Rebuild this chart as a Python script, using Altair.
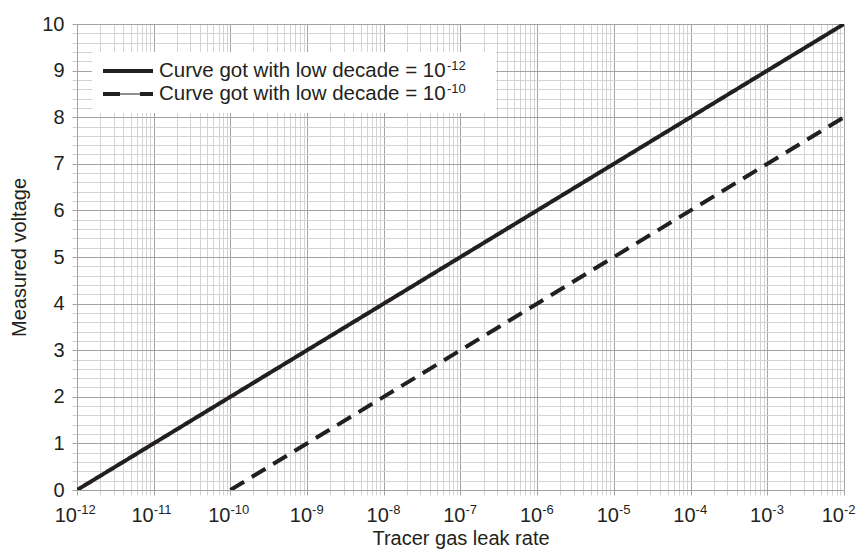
import altair as alt
import pandas as pd

FONT = "Liberation Sans"
TEXT = "#231f20"
MAJ = "#a3a3a3"
MIN = "#d3d3d3"

# ---- data ----
decade_exponents = [-12, -11, -10, -9, -8, -7, -6, -5, -4, -3, -2]
minor_multipliers = [1, 2, 3, 4, 5, 6, 7, 8, 9]

curve_keys = ["low12", "low10"]
curve_labels = ["Curve got with low decade = 10", "Curve got with low decade = 10"]
curve_label_exp = ["-12", "-10"]
curve_rate_start = [1e-12, 1e-10]
curve_rate_end = [1e-2, 1e-2]
curve_volt_start = [0, 0]
curve_volt_end = [10, 8]

x_grid = [m * 10.0 ** e for e in decade_exponents[:-1] for m in minor_multipliers] + [1e-2]
y_grid = [round(i * 0.2, 1) for i in range(51)]

rows = []
for k, rs, re_, vs, ve in zip(curve_keys, curve_rate_start, curve_rate_end, curve_volt_start, curve_volt_end):
    rows.append({"curve": k, "rate": rs, "voltage": vs})
    rows.append({"curve": k, "rate": re_, "voltage": ve})
curve_df = pd.DataFrame(rows)

W, H = 767, 466

x_scale = alt.Scale(type="log", domain=[1e-12, 1e-2], nice=False)
y_scale = alt.Scale(domain=[0, 10], nice=False, zero=False)

major_x_test = "abs(log(datum.value)/LN10 - round(log(datum.value)/LN10)) < 0.001"
major_y_test = "abs(datum.value - round(datum.value)) < 0.001"

x_axis = alt.Axis(
    values=x_grid, grid=True,
    gridColor={"condition": {"test": major_x_test, "value": MAJ}, "value": MIN},
    gridWidth=1, labels=False, ticks=True, tickSize=5,
    tickColor={"condition": {"test": major_x_test, "value": MAJ}, "value": MIN},
    domain=True, domainColor=MAJ,
    title="Tracer gas leak rate", titlePadding=33, titleFontSize=20,
    titleFont=FONT, titleFontWeight="normal", titleColor=TEXT,
)
y_axis = alt.Axis(
    values=y_grid, grid=True,
    gridColor={"condition": {"test": major_y_test, "value": MAJ}, "value": MIN},
    gridWidth=1, ticks=True, tickSize=5,
    tickColor={"condition": {"test": major_y_test, "value": MAJ}, "value": MIN},
    domain=True, domainColor=MAJ,
    labelExpr="abs(datum.value - round(datum.value)) < 0.001 ? '' + round(datum.value) : ''",
    labelOverlap=False, labelFlush=False, labelPadding=8,
    labelFontSize=20, labelFont=FONT, labelColor=TEXT,
    title="Measured voltage", titlePadding=12, titleFontSize=20,
    titleFont=FONT, titleFontWeight="normal", titleColor=TEXT,
)

lines = alt.Chart(curve_df).mark_line(strokeWidth=4, color=TEXT, clip=True).encode(
    x=alt.X("rate:Q", scale=x_scale, axis=x_axis),
    y=alt.Y("voltage:Q", scale=y_scale, axis=y_axis),
    strokeDash=alt.StrokeDash("curve:N", scale=alt.Scale(domain=curve_keys, range=[[1, 0], [16, 9]]), legend=None),
)

# ---- x tick labels with superscript exponents ----
tick_df = pd.DataFrame({"e": decade_exponents})
tick_base = alt.Chart(tick_df).transform_calculate(rate="pow(10, datum.e)", sup="'' + datum.e")

def tick_layers(filter_expr, dx):
    b = tick_base.transform_filter(filter_expr)
    ten = b.mark_text(align="right", baseline="alphabetic", fontSize=20, font=FONT, color=TEXT, dx=dx).encode(
        x=alt.X("rate:Q", scale=x_scale), y=alt.value(H + 32), text=alt.value("10"))
    sup = b.mark_text(align="left", baseline="alphabetic", fontSize=13, font=FONT, color=TEXT, dx=dx).encode(
        x=alt.X("rate:Q", scale=x_scale), y=alt.value(H + 24), text="sup:N")
    return [ten, sup]

tick_text = (tick_layers("datum.e <= -10", 0)
             + tick_layers("datum.e > -10 && datum.e < -2", 5)
             + tick_layers("datum.e == -2", 0))

# ---- legend ----
one = pd.DataFrame({"k": [0]})
leg_bg = alt.Chart(one).mark_rect(fill="white", strokeWidth=0).encode(
    x=alt.value(15), x2=alt.value(419), y=alt.value(28), y2=alt.value(89))

leg_df = pd.DataFrame({"curve": curve_keys, "label": curve_labels, "exp": curve_label_exp})
row_y = [47, 70]
leg_layers = []
for i, k in enumerate(curve_keys):
    b = alt.Chart(leg_df).transform_filter(f"datum.curve == '{k}'")
    if i == 0:
        leg_layers.append(b.mark_rule(strokeWidth=4, color=TEXT).encode(
            x=alt.value(26), x2=alt.value(76), y=alt.value(row_y[i])))
    else:
        leg_layers.append(b.mark_rule(strokeWidth=1, color=TEXT).encode(
            x=alt.value(26), x2=alt.value(76), y=alt.value(row_y[i])))
        leg_layers.append(b.mark_rule(strokeWidth=4, color=TEXT, strokeDash=[17, 20]).encode(
            x=alt.value(26), x2=alt.value(76), y=alt.value(row_y[i])))
    leg_layers.append(b.mark_text(align="left", baseline="middle", fontSize=20.5, font=FONT, color=TEXT).encode(
        x=alt.value(82), y=alt.value(row_y[i]), text="label:N"))
    leg_layers.append(b.mark_text(align="left", baseline="alphabetic", fontSize=13, font=FONT, color=TEXT).encode(
        x=alt.value(370), y=alt.value(row_y[i] - 1), text="exp:N"))

chart = alt.layer(lines, *tick_text, leg_bg, *leg_layers).properties(
    width=W, height=H,
    autosize=alt.AutoSizeParams(type="none"),
    padding={"left": 69, "top": 16, "right": 12, "bottom": 60},
).configure_view(stroke=None).configure(background="white")

chart.save("out.html", embed_options={"renderer": "svg", "actions": False})
